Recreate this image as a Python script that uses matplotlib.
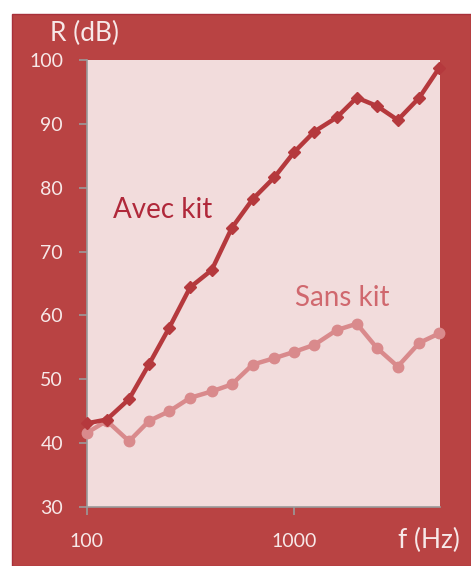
import matplotlib
matplotlib.use("Agg")
import matplotlib.pyplot as plt
from matplotlib.patches import Rectangle
from matplotlib.ticker import FixedLocator, NullLocator

freqs = [100, 125, 160, 200, 250, 315, 400, 500, 630, 800, 1000, 1250, 1600, 2000, 2500, 3150, 4000, 5000]
avec_kit = [43.1, 43.7, 46.9, 52.4, 58.1, 64.4, 67.1, 73.7, 78.2, 81.6, 85.6, 88.8, 91.0, 94.1, 92.8, 90.6, 94.1, 98.8]
sans_kit = [41.6, 43.5, 40.3, 43.5, 45.0, 47.1, 48.1, 49.2, 52.3, 53.3, 54.3, 55.4, 57.7, 58.7, 54.9, 52.0, 55.7, 57.2]
y_ticks = [30, 40, 50, 60, 70, 80, 90, 100]
x_ticks = [100, 1000]
x_ticklabels = ["100", "1000"]

W, H = 471, 566
fig = plt.figure(figsize=(W / 100, H / 100), dpi=100, facecolor="white")
plt.rcParams['font.family'] = ['Lato', 'DejaVu Sans']
plt.rcParams['font.weight'] = 'normal'

bg = "#B94343"
fig.patches.append(Rectangle((12 / W, 0), 1 - 12 / W, 1 - 14 / H, transform=fig.transFigure,
                             facecolor=bg, edgecolor="#A8303A", linewidth=1.0, zorder=-10))

ax = fig.add_axes([86.7 / W, 1 - 507 / H, (440 - 86.7) / W, (507 - 60) / H])
ax.set_zorder(5)
ax.set_facecolor("#F2DCDC")
ax.set_xscale("log")
ax.set_xlim(100, 10 ** (2 + (440 - 86.7) / 207.6))
ax.set_ylim(30, 100)

ax.plot(freqs, sans_kit, color="#D98A8C", lw=3.2, marker="o", ms=7.5, zorder=3, solid_capstyle="round", clip_on=False)
ax.plot(freqs, avec_kit, color="#B5393D", lw=3.2, marker="D", ms=6.5, zorder=4, solid_capstyle="round", clip_on=False)

for s in ["top", "right"]:
    ax.spines[s].set_visible(False)
for s in ["left", "bottom"]:
    ax.spines[s].set_color("#9A9A9A")
    ax.spines[s].set_linewidth(1.2)

ax.xaxis.set_major_locator(FixedLocator(x_ticks))
ax.xaxis.set_minor_locator(NullLocator())
ax.set_xticks(x_ticks)
ax.set_xticklabels(x_ticklabels)
ax.set_yticks(y_ticks)
ax.tick_params(axis="both", colors="#9A9A9A", length=6, width=1.2, labelcolor="#F7E8E8", labelsize=14)
ax.tick_params(axis="x", pad=13)
ax.tick_params(axis="y", pad=11)

fig.text(50 / W, 1 - 33 / H, "R (dB)", color="#F7E8E8", fontsize=19, va="center", ha="left")
fig.text(460 / W, 1 - 540 / H, "f (Hz)", color="#F7E8E8", fontsize=19, va="center", ha="right")
ax.text(233, 76.5, "Avec kit", color="#B0283A", fontsize=20, ha="center", va="center")
ax.text(1700, 62.7, "Sans kit", color="#D0686E", fontsize=20, ha="center", va="center")

fig.savefig("out.png", dpi=100, facecolor="white")
